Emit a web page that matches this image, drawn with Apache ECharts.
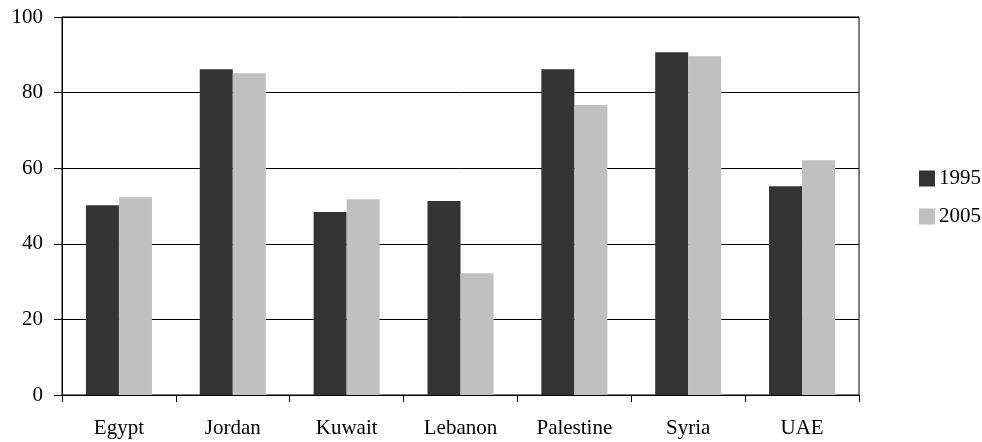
<!DOCTYPE html>
<html>
<head>
<meta charset="utf-8">
<script src="https://cdn.jsdelivr.net/npm/echarts@6/dist/echarts.min.js"></script>
<style>
  html, body { margin: 0; padding: 0; background: #fff; }
  #chart { width: 982px; height: 442px; }
</style>
</head>
<body>
<div id="chart"></div>
<script>
// Categories and values per year
const countries = ['Egypt', 'Jordan', 'Kuwait', 'Lebanon', 'Palestine', 'Syria', 'UAE'];
const values1995 = [50.2, 86.2, 48.4, 51.3, 86.2, 90.7, 55.2];
const values2005 = [52.3, 85.1, 51.8, 32.2, 76.7, 89.6, 62.1];
const yTicks = [0, 20, 40, 60, 80, 100];

const FONT = 'Liberation Serif';
const FS = 21;
const chart = echarts.init(document.getElementById('chart'), null, { renderer: 'canvas' });

chart.setOption({
  animation: false,
  backgroundColor: '#ffffff',
  textStyle: { fontFamily: FONT, color: '#000' },
  grid: {
    left: 62, right: 123, top: 17, bottom: 47,
    show: true, borderColor: '#000', borderWidth: 1
  },
  legend: {
    orient: 'vertical',
    left: 914, top: 163,
    itemWidth: 16, itemHeight: 16, itemGap: 17,
    icon: 'rect',
    textStyle: { fontFamily: FONT, fontSize: FS, color: '#000', padding: [0, 0, 0, -1] },
    data: ['1995', '2005']
  },
  xAxis: {
    type: 'category',
    data: countries,
    axisLine: { lineStyle: { color: '#000', width: 1 } },
    axisTick: { show: true, length: 7, lineStyle: { color: '#000' } },
    axisLabel: { fontFamily: FONT, fontSize: FS, color: '#000', margin: 23 }
  },
  yAxis: {
    type: 'value',
    min: yTicks[0], max: yTicks[yTicks.length - 1], interval: 20,
    axisLine: { show: true, lineStyle: { color: '#000', width: 1 } },
    axisTick: { show: true, length: 8, lineStyle: { color: '#000' } },
    axisLabel: { fontFamily: FONT, fontSize: FS, color: '#000', margin: 19 },
    splitLine: { show: true, lineStyle: { color: '#000', width: 1 } }
  },
  series: [
    {
      name: '1995', type: 'bar', data: values1995,
      barGap: '0%', barCategoryGap: '42%',
      itemStyle: { color: '#333333' }
    },
    {
      name: '2005', type: 'bar', data: values2005,
      barGap: '0%', barCategoryGap: '42%',
      itemStyle: { color: '#c0c0c0' }
    }
  ]
});
</script>
</body>
</html>
